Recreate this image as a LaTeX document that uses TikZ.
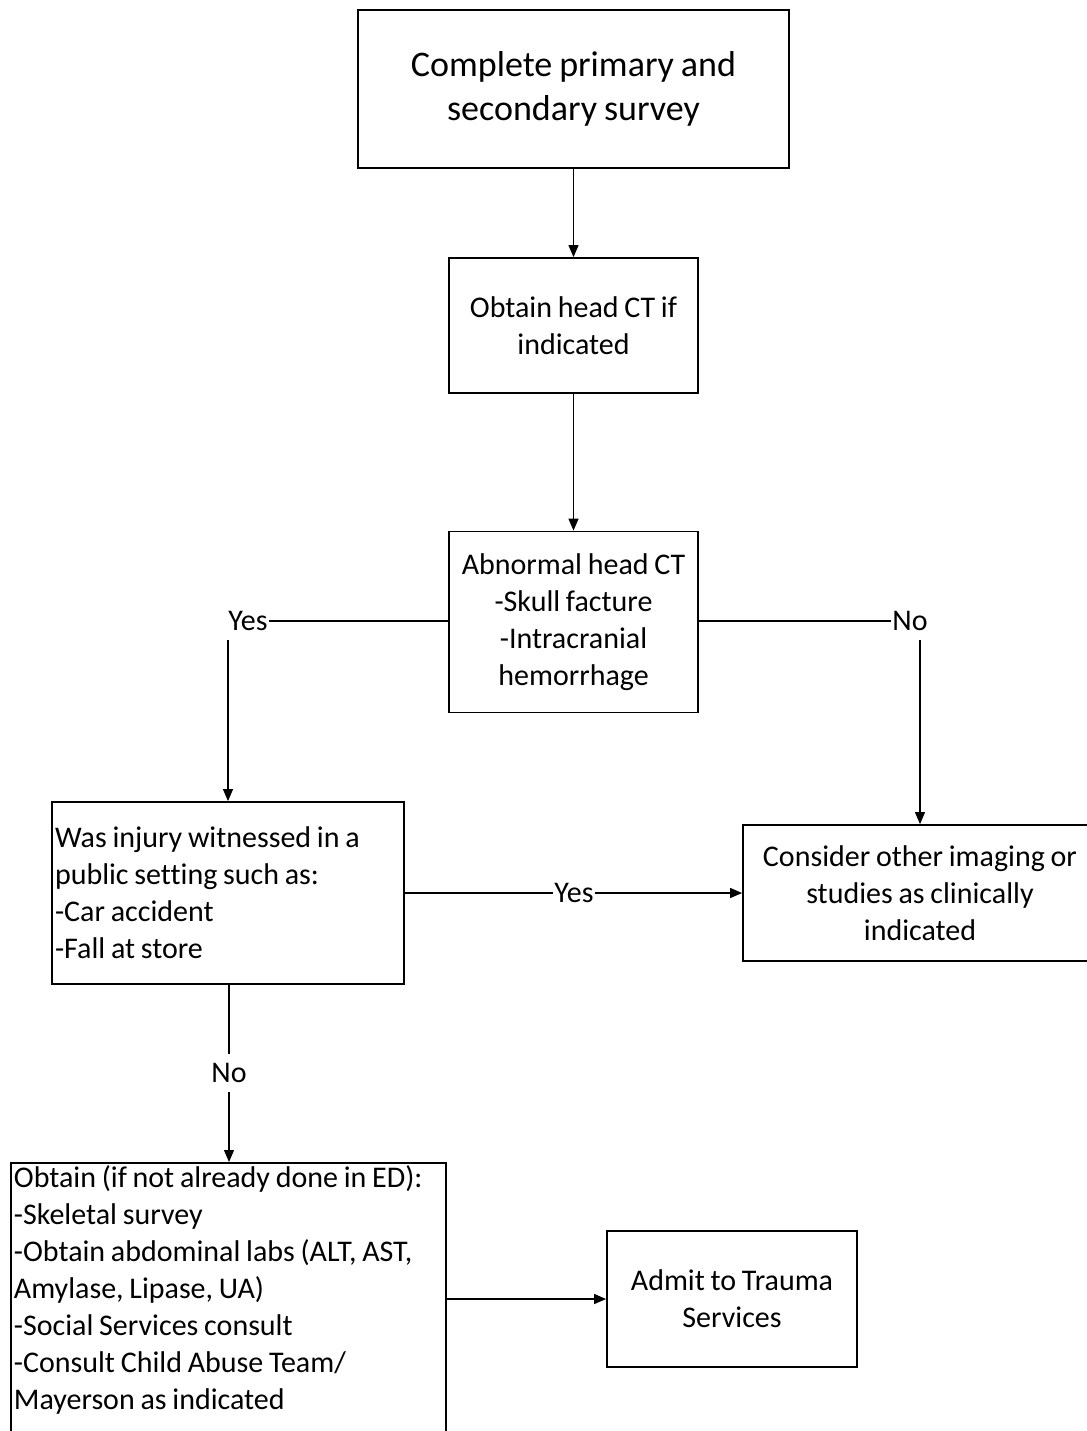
\documentclass[tikz,border=0pt]{standalone}
\usepackage{fontspec}
\setmainfont{Carlito}[WordSpace=0.85, Ligatures=NoCommon]
\usetikzlibrary{arrows.meta}
\tikzset{
	box/.style={draw, line width=0.9pt, inner sep=1.5pt, font=\fontsize{15}{18.5}\selectfont},
	lbl/.style={inner xsep=0.5pt, inner ysep=4.5pt, font=\fontsize{15}{18.5}\selectfont},
	link/.style={line width=0.6pt},
	arr/.style={link, -{Triangle[length=6pt, width=5pt]}}
}
\begin{document}
\begin{tikzpicture}[x=0.5pt, y=-0.5pt]
			\useasboundingbox (0, 0) rectangle (1087, 1431);
			\clip (0, 0) rectangle (1087, 1431);
			\node[box, minimum width=215.5pt, minimum height=79pt, align=center, font=\fontsize{18}{22}\selectfont] (survey) at (573.5, 89) {Complete primary and\\secondary survey};
			\node[box, minimum width=124.5pt, minimum height=67.5pt, align=center] (headct) at (573.5, 325.5) {Obtain head CT if\\indicated};
			\node[box, minimum width=124.5pt, minimum height=90.5pt, align=center] (abnormal) at (573.5, 622) {Abnormal head CT\\-Skull facture\\-Intracranial\\hemorrhage};
			\node[lbl] (yes1) at (248, 621) {Yes};
			\node[lbl] (no1) at (910, 621) {No};
			\node[box, minimum height=91pt, text width=173pt, align=flush left] (witness) at (228, 893) {Was injury witnessed in a\\public setting such as:\\-Car accident\\-Fall at store};
			\node[box, minimum width=177pt, minimum height=68pt, align=center] (imaging) at (920, 893) {Consider other imaging or\\studies as clinically\\indicated};
			\node[lbl] (yes2) at (574, 893) {Yes};
			\node[lbl] (no2) at (229, 1073) {No};
			\node[box, anchor=north west, text width=214.5pt, text depth=127pt, align=flush left] (obtain) at (10, 1162) {Obtain (if not already done in ED):\\-Skeletal survey\\-Obtain abdominal labs (ALT, AST,\\Amylase, Lipase, UA)\\-Social Services consult\\-Consult Child Abuse Team/\\Mayerson as indicated};
			\node[box, minimum width=125pt, minimum height=68pt, align=center] (admit) at (732, 1299) {Admit to Trauma\\Services};
			\draw[arr] (survey.south) -- (headct.north);
			\draw[arr] (headct) -- (abnormal);
			\draw[link] (abnormal.west |- yes1) -- (yes1.east);
			\draw[arr] (yes1.south -| witness.north) -- (witness.north);
			\draw[link] (abnormal.east |- no1) -- (no1.west);
			\draw[arr] (no1.south -| imaging.north) -- (imaging.north);
			\draw[link] (witness.east) -- (yes2.west);
			\draw[arr] (yes2.east) -- (imaging.west);
			\draw[link] (no2.north |- witness.south) -- (no2.north);
			\draw[arr] (no2.south) -- (no2.south |- obtain.north);
			\draw[arr] (obtain.east |- admit.west) -- (admit.west);
		\end{tikzpicture}
\end{document}
